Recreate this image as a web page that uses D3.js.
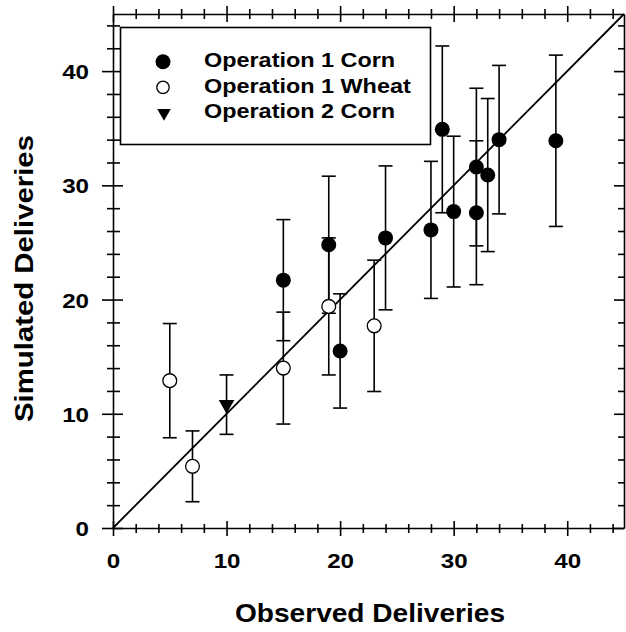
<!DOCTYPE html>
<html><head><meta charset="utf-8">
<script src="https://cdn.jsdelivr.net/npm/d3@7"></script>
<style>
html,body{margin:0;padding:0;background:#fff;}
text{font-family:"Liberation Sans",Arial,Helvetica,sans-serif;font-weight:bold;fill:#000;}
</style></head>
<body>
<svg id="chart" width="626" height="632"></svg>
<script>
// ---- data ----
const seriesNames = ["Operation 1 Corn", "Operation 1 Wheat", "Operation 2 Corn"];
const cornObs = [15, 19, 20, 24, 28, 29, 30, 32, 32, 33, 34, 39];
const cornSim = [21.7, 24.8, 15.5, 25.4, 26.1, 34.9, 27.7, 31.6, 27.6, 30.9, 34.0, 33.9];
const cornErr = [5.3, 6.0, 5.0, 6.3, 6.0, 7.3, 6.6, 6.9, 6.3, 6.7, 6.5, 7.5];
const wheatObs = [5, 7, 15, 19, 23];
const wheatSim = [12.9, 5.4, 14.0, 19.4, 17.7];
const wheatErr = [5.0, 3.1, 4.9, 6.0, 5.75];
const op2Obs = [10];
const op2Sim = [10.8];
const op2Err = [2.6];
const majorTicks = [0, 10, 20, 30, 40];
const majorTickLabels = ["0", "10", "20", "30", "40"];
const minorTicks = [2,4,6,8,12,14,16,18,22,24,26,28,32,34,36,38,42,44];
const xTitle = "Observed Deliveries";
const yTitle = "Simulated Deliveries";

// ---- layout ----
const L = 113, R = 624, T = 14, B = 528;
const svg = d3.select("#chart");
const x = d3.scaleLinear().domain([0, 45]).range([L, R]);
const y = d3.scaleLinear().domain([0, 45]).range([B, T]);

const SW = 1.6;

// stretch text along its length; anchor: "start" | "middle" | "end" relative to current x
function stretch(sel, k, anchor) {
  sel.each(function () {
    const t = d3.select(this);
    const w = this.getComputedTextLength();
    const x0 = +t.attr("x") || 0;
    const W = w * k;
    let xs = x0;
    if (anchor === "middle") xs = x0 - W / 2;
    if (anchor === "end") xs = x0 - W;
    t.attr("text-anchor", "start").attr("x", xs)
      .attr("textLength", W).attr("lengthAdjust", "spacingAndGlyphs");
  });
}

// diagonal 1:1 line
svg.append("line")
  .attr("x1", x(0)).attr("y1", y(0)).attr("x2", x(45)).attr("y2", y(45))
  .attr("stroke", "#000").attr("stroke-width", 1.8);

// axes
function styleAxis(g) {
  g.select(".domain").attr("stroke", "#000").attr("stroke-width", SW);
  g.selectAll(".tick line").attr("stroke", "#000").attr("stroke-width", SW);
}
// bottom
const gB = svg.append("g").attr("transform", `translate(0,${B})`)
  .call(d3.axisBottom(x).tickValues(majorTicks).tickFormat((d, i) => majorTickLabels[i]).tickSize(8).tickSizeOuter(0));
styleAxis(gB);
gB.selectAll(".tick line").attr("y1", -7);
gB.selectAll(".tick text").attr("y", 39.7).attr("dy", 0).attr("x", 0).style("font-size", "21px");
stretch(gB.selectAll(".tick text"), 1.15, "middle");
const gBm = svg.append("g").attr("transform", `translate(0,${B})`)
  .call(d3.axisBottom(x).tickValues(minorTicks).tickFormat("").tickSize(5).tickSizeOuter(0));
styleAxis(gBm); gBm.select(".domain").remove();
gBm.selectAll(".tick line").attr("y1", -4);
// top
const gT = svg.append("g").attr("transform", `translate(0,${T})`)
  .call(d3.axisTop(x).tickValues(majorTicks).tickFormat("").tickSize(8).tickSizeOuter(0));
styleAxis(gT);
gT.selectAll(".tick line").attr("y1", 8);
const gTm = svg.append("g").attr("transform", `translate(0,${T})`)
  .call(d3.axisTop(x).tickValues(minorTicks).tickFormat("").tickSize(5).tickSizeOuter(0));
styleAxis(gTm); gTm.select(".domain").remove();
gTm.selectAll(".tick line").attr("y1", 5);
// left
const gL = svg.append("g").attr("transform", `translate(${L},0)`)
  .call(d3.axisLeft(y).tickValues(majorTicks).tickFormat((d, i) => majorTickLabels[i]).tickSize(11).tickSizeOuter(0));
styleAxis(gL);
gL.selectAll(".tick line").attr("x1", 10);
gL.selectAll(".tick text").attr("x", -24).attr("dy", "0.36em").style("font-size", "21px");
stretch(gL.selectAll(".tick text"), 1.15, "end");
const gLm = svg.append("g").attr("transform", `translate(${L},0)`)
  .call(d3.axisLeft(y).tickValues(minorTicks).tickFormat("").tickSize(6).tickSizeOuter(0));
styleAxis(gLm); gLm.select(".domain").remove();
gLm.selectAll(".tick line").attr("x1", 7);
// right
const gR = svg.append("g").attr("transform", `translate(${R},0)`)
  .call(d3.axisRight(y).tickValues(majorTicks).tickFormat("").tickSize(-10).tickSizeOuter(0));
styleAxis(gR);
const gRm = svg.append("g").attr("transform", `translate(${R},0)`)
  .call(d3.axisRight(y).tickValues(minorTicks).tickFormat("").tickSize(-6).tickSizeOuter(0));
styleAxis(gRm); gRm.select(".domain").remove();

// titles
svg.append("text").attr("x", 235).attr("y", 621.5)
  .style("font-size", "25px").text(xTitle)
  .attr("textLength", 270).attr("lengthAdjust", "spacingAndGlyphs");
svg.append("text").attr("transform", "translate(33,422) rotate(-90)").attr("x", 0).attr("y", 0)
  .style("font-size", "25px").text(yTitle)
  .attr("textLength", 287).attr("lengthAdjust", "spacingAndGlyphs");

// legend box (drawn before data so data stays on top)
svg.append("rect").attr("x", 120.5).attr("y", 27.5).attr("width", 310).attr("height", 117)
  .attr("fill", "#fff").attr("stroke", "#000").attr("stroke-width", SW);

// error bars + markers
const CAP = 7;
function zip(xs, ys, es) { return xs.map((v, i) => ({ x: v, y: ys[i], e: es[i] })); }
const corn = zip(cornObs, cornSim, cornErr);
const wheat = zip(wheatObs, wheatSim, wheatErr);
const op2 = zip(op2Obs, op2Sim, op2Err);
const all = corn.concat(wheat, op2);

const eb = svg.append("g").attr("stroke", "#000").attr("stroke-width", SW);
all.forEach(d => {
  eb.append("line").attr("x1", x(d.x)).attr("x2", x(d.x)).attr("y1", y(d.y - d.e)).attr("y2", y(d.y + d.e));
  eb.append("line").attr("x1", x(d.x) - CAP).attr("x2", x(d.x) + CAP).attr("y1", y(d.y + d.e)).attr("y2", y(d.y + d.e));
  eb.append("line").attr("x1", x(d.x) - CAP).attr("x2", x(d.x) + CAP).attr("y1", y(d.y - d.e)).attr("y2", y(d.y - d.e));
});

const R_PT = 7.5;
svg.append("g").selectAll("circle").data(wheat).join("circle")
  .attr("cx", d => x(d.x)).attr("cy", d => y(d.y)).attr("r", R_PT - 0.6)
  .attr("fill", "#fff").attr("stroke", "#000").attr("stroke-width", 1.3);
svg.append("g").selectAll("circle").data(corn).join("circle")
  .attr("cx", d => x(d.x)).attr("cy", d => y(d.y)).attr("r", R_PT).attr("fill", "#000");
const tri = d3.symbol().type(d3.symbolTriangle).size(106);
svg.append("g").selectAll("path").data(op2).join("path")
  .attr("d", tri).attr("transform", d => `translate(${x(d.x)},${y(d.y)}) rotate(180)`).attr("fill", "#000");

// legend contents
const legY = [61.7, 87.3, 113];
const legTextY = [66.7, 92.5, 118.3];
const lg = svg.append("g");
lg.append("circle").attr("cx", 163).attr("cy", legY[0]).attr("r", R_PT).attr("fill", "#000");
lg.append("circle").attr("cx", 163).attr("cy", legY[1]).attr("r", 6.2).attr("fill", "#fff").attr("stroke", "#000").attr("stroke-width", 1.3);
lg.append("path").attr("d", d3.symbol().type(d3.symbolTriangle).size(80))
  .attr("transform", `translate(164,${legY[2]}) rotate(180)`).attr("fill", "#000");
const lt = lg.selectAll("text.leg").data(seriesNames).join("text").attr("class", "leg")
  .attr("x", 204).attr("y", (d, i) => legTextY[i]).style("font-size", "20px").text(d => d);
stretch(lt, 1.17, "start");
</script>
</body></html>
